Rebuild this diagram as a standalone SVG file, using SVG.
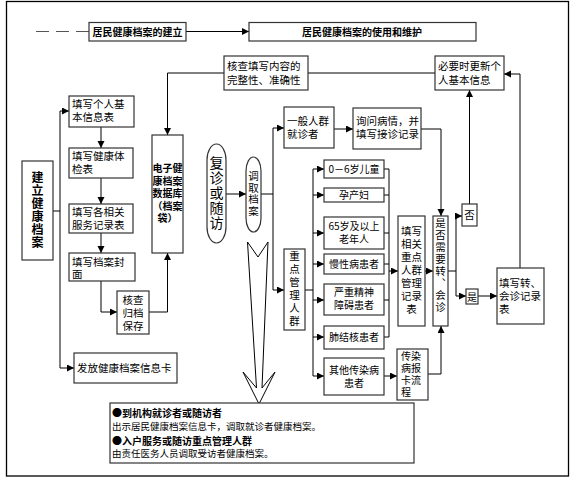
<svg xmlns="http://www.w3.org/2000/svg" width="577" height="480" viewBox="0 0 577 480">
<defs>
<marker id="ah" markerUnits="userSpaceOnUse" markerWidth="8" markerHeight="8" refX="7" refY="3.5" orient="auto"><path d="M0,0 L7,3.5 L0,7 z" fill="#000"/></marker>
</defs>
<style>
.box{fill:#fff;stroke:#333;stroke-width:1.2}
.ln{fill:none;stroke:#000;stroke-width:1}
.ar{fill:none;stroke:#000;stroke-width:1;marker-end:url(#ah)}
text{font-family:"Noto Sans CJK SC","Noto Sans",sans-serif;font-size:10.5px;fill:#000}
.b{font-weight:bold}
.c{text-anchor:middle}
.v{writing-mode:vertical-rl;text-anchor:middle}
.f9{font-size:9.5px}
.f10{font-size:10px}
.f12{font-size:12px}
.f14{font-size:14px}
</style>
<rect x="6.5" y="1.5" width="562" height="474.5" fill="#fff" stroke="#000" stroke-width="1.3"/>

<g id="connectors">
<line x1="36" y1="31.5" x2="89" y2="31.5" stroke="#555" stroke-width="1.2" stroke-dasharray="13,7"/>
<path class="ar" d="M186,31.5 H249"/>
<path class="ln" d="M53,211 H60 M60,111 V368"/>
<path class="ar" d="M60,111 H69"/>
<path class="ar" d="M60,368 H74"/>
<path class="ar" d="M101,127 V148"/>
<path class="ar" d="M101,178 V204"/>
<path class="ar" d="M101,233 V253"/>
<path class="ar" d="M101,281 V312 H117"/>
<path class="ar" d="M149,312 H167.5 V253"/>
<path class="ln" d="M435,73 H308"/>
<path class="ar" d="M224,73 H167.5 V135"/>
<path class="ar" d="M226,194 H246"/>
<path class="ln" d="M261,194 H273 M273,128 V290"/>
<path class="ar" d="M273,128 H284"/>
<path class="ar" d="M273,290 H284"/>
<path class="ar" d="M334,129 H353"/>
<path class="ar" d="M421,129 H441 V216"/>
<path class="ln" d="M305,290 H313" stroke-width="2"/>
<path class="ln" d="M313,169 V376"/>
<path class="ar" d="M313,169 H324"/>
<path class="ar" d="M313,195 H324"/>
<path class="ar" d="M313,233 H324"/>
<path class="ar" d="M313,264 H324"/>
<path class="ar" d="M313,300 H324"/>
<path class="ar" d="M313,337 H324"/>
<path class="ar" d="M313,376 H324"/>
<path class="ln" d="M384,169 H389 M384,195 H389 M384,233 H389 M384,264 H389 M384,300 H389 M384,337 H389 M389,169 V337"/>
<path class="ar" d="M389,271 H398"/>
<path class="ar" d="M425,271 H433"/>
<path class="ar" d="M384,376 H397"/>
<path class="ar" d="M428,374 H441 V326"/>
<path class="ln" d="M448,271 H456 M456,216 V296"/>
<path class="ar" d="M456,216 H462"/>
<path class="ar" d="M456,296 H466"/>
<path class="ar" d="M469.5,204 V90"/>
<path class="ar" d="M478,296 H497"/>
<path class="ar" d="M520,268 V74 H504"/>
<polygon points="247.5,242 258,257 268,242 262,388 275,372 259,404 243,372 256.5,388" fill="#fff" stroke="#000" stroke-width="1"/>
</g>

<g id="h1"><rect class="box" x="89" y="22.5" width="97" height="18.5"/><text class="b c f10" x="137.5" y="35.5">居民健康档案的建立</text></g>
<g id="h2"><rect class="box" x="249" y="22.5" width="227" height="18.5"/><text class="b c f10" x="362" y="35.5">居民健康档案的使用和维护</text></g>

<g id="jianli"><rect class="box" x="22" y="161" width="31" height="99"/>
<text class="b v f12" x="37.5" y="210.5" letter-spacing="1">建立健康档案</text></g>

<g id="n1"><rect class="box" x="69" y="96" width="65" height="31"/><text x="72"><tspan x="72" y="108">填写个人基</tspan><tspan x="72" y="121">本信息表</tspan></text></g>
<g id="n2"><rect class="box" x="69" y="148" width="64" height="30"/><text x="72"><tspan x="72" y="160">填写健康体</tspan><tspan x="72" y="173">检表</tspan></text></g>
<g id="n3"><rect class="box" x="69" y="204" width="64" height="29"/><text x="72"><tspan x="72" y="216">填写各相关</tspan><tspan x="72" y="228.5">服务记录表</tspan></text></g>
<g id="n4"><rect class="box" x="69" y="253" width="66" height="28"/><text x="72"><tspan x="72" y="266">填写档案封</tspan><tspan x="72" y="278">面</tspan></text></g>
<g id="n5"><rect class="box" x="117" y="291" width="32" height="43"/><text class="c"><tspan x="133" y="304">核查</tspan><tspan x="133" y="317">归档</tspan><tspan x="133" y="329.5">保存</tspan></text></g>
<g id="n6"><rect class="box" x="74" y="353" width="103" height="30"/><text x="77" y="372">发放健康档案信息卡</text></g>

<g id="db"><rect class="box" x="152" y="135" width="31" height="118"/>
<text class="b c f10"><tspan x="167.5" y="172">电子健</tspan><tspan x="167.5" y="184.5">康档案</tspan><tspan x="167.5" y="197">数据库</tspan><tspan x="167.5" y="209.5">（档案</tspan><tspan x="167.5" y="222">袋）</tspan></text></g>

<g id="check"><rect class="box" x="224" y="56" width="84" height="34"/><text x="227"><tspan x="227" y="70">核查填写内容的</tspan><tspan x="227" y="83.5">完整性、准确性</tspan></text></g>
<g id="update"><rect class="box" x="435" y="56" width="69" height="34"/><text x="438"><tspan x="438" y="70">必要时更新个</tspan><tspan x="438" y="83.5">人基本信息</tspan></text></g>

<g id="fuzhen"><rect class="box" x="207" y="144" width="19" height="99" rx="9.5" ry="16"/>
<text class="v f14" x="216.5" y="193" letter-spacing="1">复诊或随访</text></g>
<g id="diaoqu"><rect class="box" x="246" y="157" width="15" height="75" rx="7.5" ry="14"/>
<text class="v" x="253.5" y="194" letter-spacing="1">调取档案</text></g>

<g id="yiban"><rect class="box" x="284" y="107" width="50" height="41"/><text x="287"><tspan x="287" y="125">一般人群</tspan><tspan x="287" y="137.5">就诊者</tspan></text></g>
<g id="xunwen"><rect class="box" x="353" y="108" width="68" height="41"/><text x="356"><tspan x="356" y="125">询问病情，并</tspan><tspan x="356" y="138">填写接诊记录</tspan></text></g>

<g id="zhongdian"><rect class="box" x="284" y="249" width="21" height="81"/>
<text class="v" x="294.5" y="289.5" letter-spacing="2.5">重点管理人群</text></g>

<g id="c1"><rect class="box" x="324" y="160" width="60" height="18"/><text class="c f10" x="354" y="172.5">0－6岁儿童</text></g>
<g id="c2"><rect class="box" x="324" y="188" width="60" height="14"/><text class="c f10" x="354" y="198.5">孕产妇</text></g>
<g id="c3"><rect class="box" x="324" y="217" width="60" height="32"/><text class="c f10"><tspan x="354" y="230">65岁及以上</tspan><tspan x="354" y="243">老年人</tspan></text></g>
<g id="c4"><rect class="box" x="324" y="254" width="60" height="20"/><text class="c f10" x="354" y="267.5">慢性病患者</text></g>
<g id="c5"><rect class="box" x="324" y="284" width="60" height="31"/><text class="c f10"><tspan x="354" y="296">严重精神</tspan><tspan x="354" y="309">障碍患者</tspan></text></g>
<g id="c6"><rect class="box" x="324" y="326" width="60" height="23"/><text class="c f10" x="354" y="341">肺结核患者</text></g>
<g id="c7"><rect class="box" x="324" y="358" width="60" height="37"/><text class="c f10"><tspan x="354" y="374">其他传染病</tspan><tspan x="354" y="387">患者</tspan></text></g>

<g id="record"><rect class="box" x="398" y="216" width="27" height="110"/>
<text class="c"><tspan x="411.5" y="235">填写</tspan><tspan x="411.5" y="248">相关</tspan><tspan x="411.5" y="261">重点</tspan><tspan x="411.5" y="274">人群</tspan><tspan x="411.5" y="287">管理</tspan><tspan x="411.5" y="300">记录</tspan><tspan x="411.5" y="313">表</tspan></text></g>
<g id="report"><rect class="box" x="397" y="349" width="31" height="51"/>
<text class="f10"><tspan x="401" y="360">传染</tspan><tspan x="401" y="372">病报</tspan><tspan x="401" y="384">卡流</tspan><tspan x="401" y="396">程</tspan></text></g>

<g id="need"><rect class="box" x="433" y="216" width="15" height="110"/>
<text class="v" x="440.5" y="266" letter-spacing="1.5">是否需要转、会诊</text></g>

<g id="fou"><rect class="box" x="462" y="204" width="15" height="22"/><text class="c" x="469.5" y="219">否</text></g>
<g id="shi"><rect class="box" x="466" y="289" width="12" height="15"/><text class="c f10" x="472" y="300.5">是</text></g>
<g id="zhuan"><rect class="box" x="497" y="268" width="47" height="56"/><text x="499"><tspan x="499" y="287">填写转、</tspan><tspan x="499" y="300">会诊记录</tspan><tspan x="499" y="313">表</tspan></text></g>

<g id="note"><rect class="box" x="110" y="403" width="304" height="60"/>
<text x="112"><tspan class="b f10" x="112" y="416.5">●到机构就诊者或随访者</tspan><tspan class="f9" x="112" y="430">出示居民健康档案信息卡，调取就诊者健康档案。</tspan><tspan class="b f10" x="112" y="444.5">●入户服务或随访重点管理人群</tspan><tspan class="f9" x="112" y="457">由责任医务人员调取受访者健康档案。</tspan></text></g>
</svg>
